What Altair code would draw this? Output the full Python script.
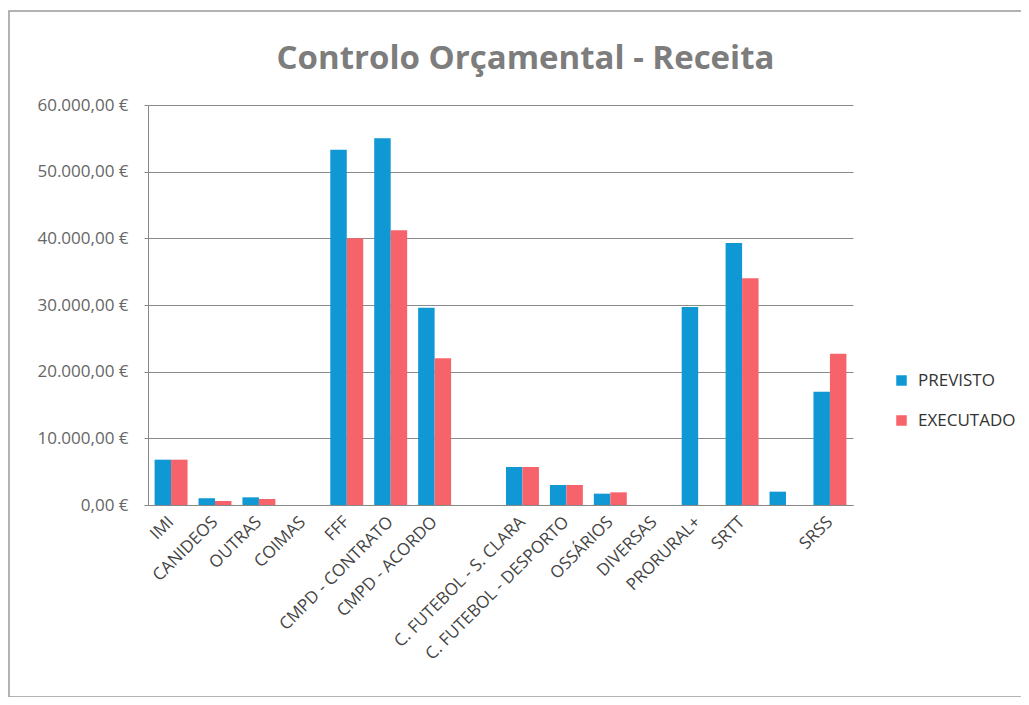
import altair as alt
import pandas as pd

categories = ["IMI", "CANIDEOS", "OUTRAS", "COIMAS", "FFF", "CMPD - CONTRATO",
              "CMPD - ACORDO", " ", "C. FUTEBOL - S. CLARA", "C. FUTEBOL - DESPORTO",
              "OSSÁRIOS", "DIVERSAS", "PRORURAL+", "SRTT", "  ", "SRSS"]
previsto = [6800, 1000, 1150, 0, 53300, 55000, 29600, 0, 5700, 3000,
            1700, 0, 29700, 39300, 2000, 17000]
executado = [6800, 600, 900, 0, 40000, 41200, 22000, 0, 5700, 3000,
             1900, 0, 0, 34000, 0, 22700]
series = ["PREVISTO", "EXECUTADO"]
colors = ["#0f98d4", "#f7636a"]

rows = []
for c, p, e in zip(categories, previsto, executado):
    rows.append({"cat": c, "serie": series[0], "valor": p})
    rows.append({"cat": c, "serie": series[1], "valor": e})
df = pd.DataFrame(rows)

ylabel = ("replace(replace(replace(format(datum.value, ',.2f'), ',', '#'), '.', ','), '#', '.') + ' €'")

bars = alt.Chart(df).mark_bar().encode(
    x=alt.X("cat:N", sort=categories,
            scale=alt.Scale(paddingInner=0.25, paddingOuter=0.15),
            axis=alt.Axis(title=None, labelAngle=-45, labelAlign="right",
                          labelBaseline="middle", labelFontSize=17,
                          labelColor="#444444", labelFont="Open Sans",
                          labelPadding=14, ticks=False, domainColor="#888888",
                          labelOverlap=False, labelLimit=400)),
    xOffset=alt.XOffset("serie:N", sort=series),
    y=alt.Y("valor:Q", scale=alt.Scale(domain=[0, 60000]),
            axis=alt.Axis(title=None, values=[0, 10000, 20000, 30000, 40000, 50000, 60000],
                          labelExpr=ylabel, labelFontSize=17, labelColor="#666666",
                          labelFont="Open Sans", labelPadding=16, tickSize=4,
                          tickColor="#888888", domainColor="#888888",
                          gridColor="#8a8a8a", gridWidth=1)),
    color=alt.Color("serie:N", sort=series,
                    scale=alt.Scale(domain=series, range=colors),
                    legend=alt.Legend(title=None, orient="none", legendX=745, legendY=267,
                                      symbolType="square", symbolSize=110,
                                      symbolStrokeWidth=0, labelFontSize=17,
                                      labelFont="Open Sans", labelColor="#333333",
                                      rowPadding=22, labelOffset=8)),
)

frame = alt.Chart(pd.DataFrame({"a": [0]})).mark_rect(
    fill=None, stroke="#9a9a9a", strokeWidth=1.5
).encode(
    x=alt.value(-139), x2=alt.value(880), y=alt.value(-94), y2=alt.value(592)
)

chart = alt.layer(frame, bars).properties(
    width=705,
    height=400,
    padding={"left": 140, "top": 97, "right": 168, "bottom": 192},
    autosize=alt.AutoSizeParams(type="none"),
    title=alt.TitleParams("Controlo Orçamental - Receita", fontSize=33, font="Open Sans",
                          fontWeight="bold", color="#7d7d7d", anchor="middle",
                          frame="group", dx=25, offset=-66),
    background="white",
).configure_view(stroke=None)

chart.save("out.html", embed_options={"renderer": "svg", "actions": False})
